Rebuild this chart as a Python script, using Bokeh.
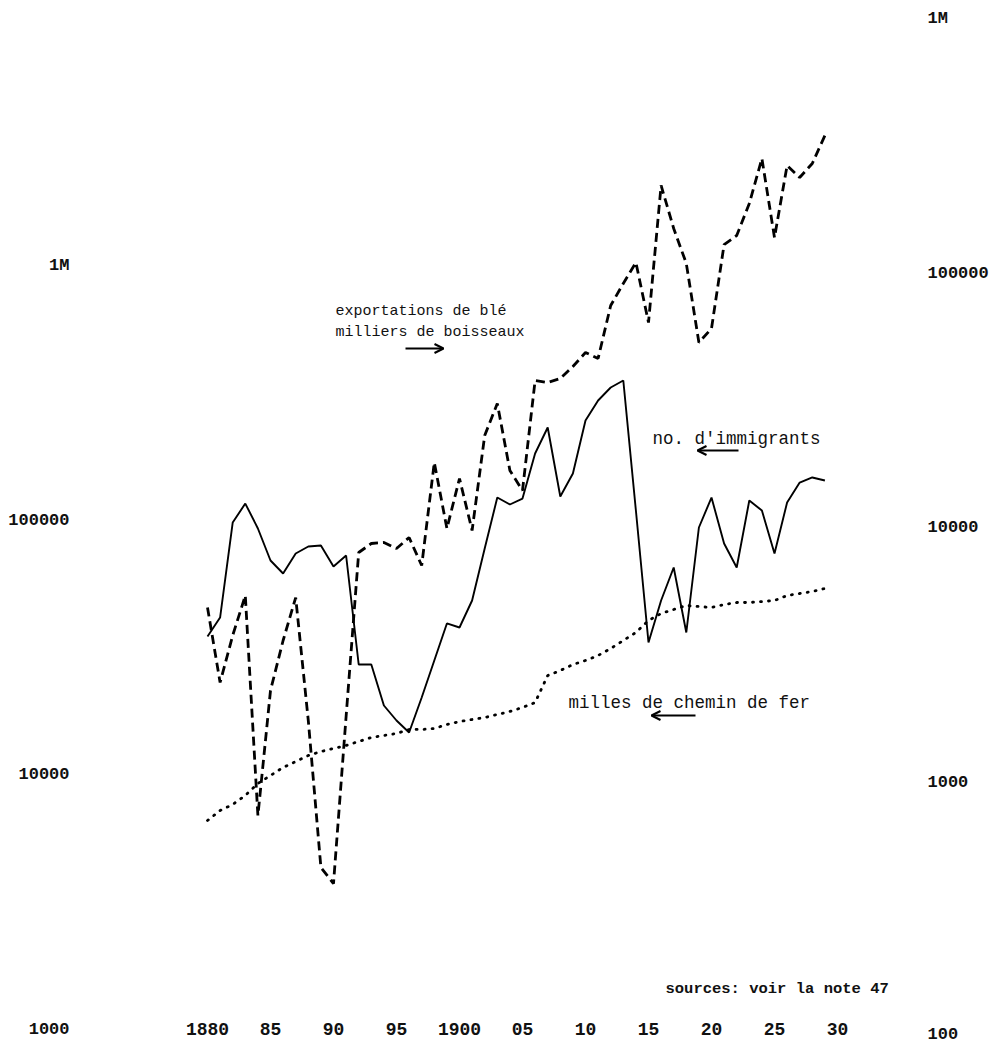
from bokeh.plotting import figure
from bokeh.models import (Range1d, LogAxis, LinearAxis, FixedTicker, Label, Arrow,
                          OpenHead)
from bokeh.embed import file_html
from bokeh.resources import INLINE

# ---------------- data ----------------
years = list(range(1880, 1930))

# exportations de blé, milliers de boisseaux (right axis)
wheat = [4860, 2466, 3772, 5415, 740, 2294, 3606, 5318, 1748, 463,
         400, 1813, 7990, 8668, 8748, 8284, 9152, 7102, 18040, 9929,
         15600, 9750, 23020, 30740, 16770, 14000, 37860, 37180, 38550, 42970,
         48760, 46190, 74600, 91050, 110100, 63970, 220900, 149700, 109100, 53380,
         60590, 129500, 140500, 187700, 281900, 137900, 264600, 237400, 269500, 347000]

# no. d'immigrants (left axis)
immigrants = [34890, 41420, 97810, 116100, 92670, 69370, 61680, 73900, 78710, 79430,
              65700, 72580, 27080, 27080, 18690, 16320, 14640, 20100, 28080, 39250,
              37840, 48310, 77290, 122600, 115100, 121500, 182600, 231000, 123700, 152400,
              246100, 294900, 331700, 353300, 109000, 33040, 48310, 65110, 36170, 93500,
              122600, 80860, 65110, 119300, 109000, 73900, 117200, 140400, 147000, 143000]

# milles de chemin de fer (left axis)
railway = [6607, 7233, 7637, 8282, 9233, 9924, 10670, 11260, 11890, 12330,
           12670, 13020, 13500, 13990, 14250, 14510, 15050, 15050, 15180, 15740,
           16170, 16470, 16770, 17230, 17710, 18360, 19200, 24520, 25650, 27080,
           28080, 29380, 31290, 33650, 36170, 40320, 42950, 44530, 46170, 45760,
           45350, 46600, 47450, 47450, 47870, 48310, 50540, 51470, 52410, 53850]

x_ticks = [1880, 1885, 1890, 1895, 1900, 1905, 1910, 1915, 1920, 1925, 1930]
x_tick_labels = ["1880", "85", "90", "95", "1900", "05", "10", "15", "20", "25", "30"]

left_ticks = [1000, 10000, 100000, 1000000]
left_tick_labels = ["1000", "10000", "100000", "1M"]
right_ticks = [100, 1000, 10000, 100000, 1000000]
right_tick_labels = ["100", "1000", "10000", "100000", "1M"]

# ---------------- layout constants ----------------
W, H = 995, 1043
MB_L, MB_R, MB_T, MB_B = 90, 78, 4, 3
PAGE = 0
frame_left = PAGE + MB_L
frame_right = PAGE + W - MB_R
frame_top = PAGE + MB_T
frame_bottom = PAGE + H - MB_B
PX_YEAR = 12.6
X1880 = 207
K = 254.6          # px per decade
Y_1M_RIGHT = 18    # page y of right-axis 1M
LEFT_SHIFT = 0.97  # left-axis decades above right-axis decades

x0 = 1880 - (X1880 - frame_left) / PX_YEAR
x1 = 1880 + (frame_right - X1880) / PX_YEAR
top_log = 6 + (Y_1M_RIGHT - frame_top) / K
bot_log = 6 - (frame_bottom - Y_1M_RIGHT) / K

FONT = "Liberation Mono"

p = figure(width=W, height=H, output_backend="svg", toolbar_location=None,
           x_range=Range1d(x0, x1),
           y_range=Range1d(10 ** bot_log, 10 ** top_log),
           y_axis_type="log", x_axis_location=None, y_axis_location=None,
           min_border_left=MB_L, min_border_right=MB_R,
           min_border_top=MB_T, min_border_bottom=MB_B)
p.extra_y_ranges = {"left": Range1d(10 ** (bot_log + LEFT_SHIFT), 10 ** (top_log + LEFT_SHIFT))}
p.outline_line_color = None
p.background_fill_color = "white"
p.border_fill_color = "white"
p.xgrid.visible = False
p.ygrid.visible = False


def style_axis(ax, size, standoff):
    ax.axis_line_color = None
    ax.major_tick_line_color = None
    ax.minor_tick_line_color = None
    ax.major_tick_out = 0
    ax.major_tick_in = 0
    ax.major_label_text_font = FONT
    ax.major_label_text_font_style = "bold"
    ax.major_label_text_font_size = size
    ax.major_label_text_color = "#111111"
    ax.major_label_standoff = standoff


left_axis = LogAxis(y_range_name="left", ticker=FixedTicker(ticks=left_ticks),
                    major_label_overrides={t: l for t, l in zip(left_ticks, left_tick_labels)})
style_axis(left_axis, "17px", 21)
p.add_layout(left_axis, "left")

right_axis = LogAxis(ticker=FixedTicker(ticks=right_ticks),
                     major_label_overrides={t: l for t, l in zip(right_ticks, right_tick_labels)})
style_axis(right_axis, "17px", 10)
p.add_layout(right_axis, "right")

x_axis = LinearAxis(ticker=FixedTicker(ticks=x_ticks),
                    major_label_overrides={t: l for t, l in zip(x_ticks, x_tick_labels)},
                    fixed_location=10 ** (6 - (1019 - Y_1M_RIGHT) / K))
style_axis(x_axis, "18px", 3)
p.add_layout(x_axis, "below")

# ---------------- series ----------------
p.line(years, wheat, line_color="black", line_width=2.8, line_dash="9 5")
p.line(years, immigrants, y_range_name="left", line_color="black", line_width=1.9)
p.line(years, railway, y_range_name="left", line_color="black", line_width=2.8,
       line_dash="1 7", line_cap="round")

# ---------------- annotations ----------------
def yr(px):
    return 1880 + (px - X1880) / PX_YEAR


def rv(py):
    return 10 ** (6 - (py - Y_1M_RIGHT) / K)


for txt, px, py, size, style in [
        ("exportations de blé", 335, 311, "15px", "normal"),
        ("milliers de boisseaux", 335, 332, "15px", "normal"),
        ("no. d'immigrants", 652, 438, "17.5px", "normal"),
        ("milles de chemin de fer", 568, 702, "17.5px", "normal"),
        ("sources: voir la note 47", 665, 988, "15.5px", "bold")]:
    p.add_layout(Label(x=yr(px), y=rv(py), text=txt, text_font=FONT,
                       text_font_size=size, text_font_style=style,
                       text_baseline="middle", text_align="left", text_color="#111111"))

for (xs, xe, py) in [(405, 443, 348), (738, 697, 450), (695, 651, 715)]:
    p.add_layout(Arrow(x_start=yr(xs), x_end=yr(xe), y_start=rv(py), y_end=rv(py),
                       line_color="black", line_width=1.8,
                       end=OpenHead(size=9, line_width=2.2, line_color="black")))

open("out.html", "w").write(file_html(p, INLINE))
